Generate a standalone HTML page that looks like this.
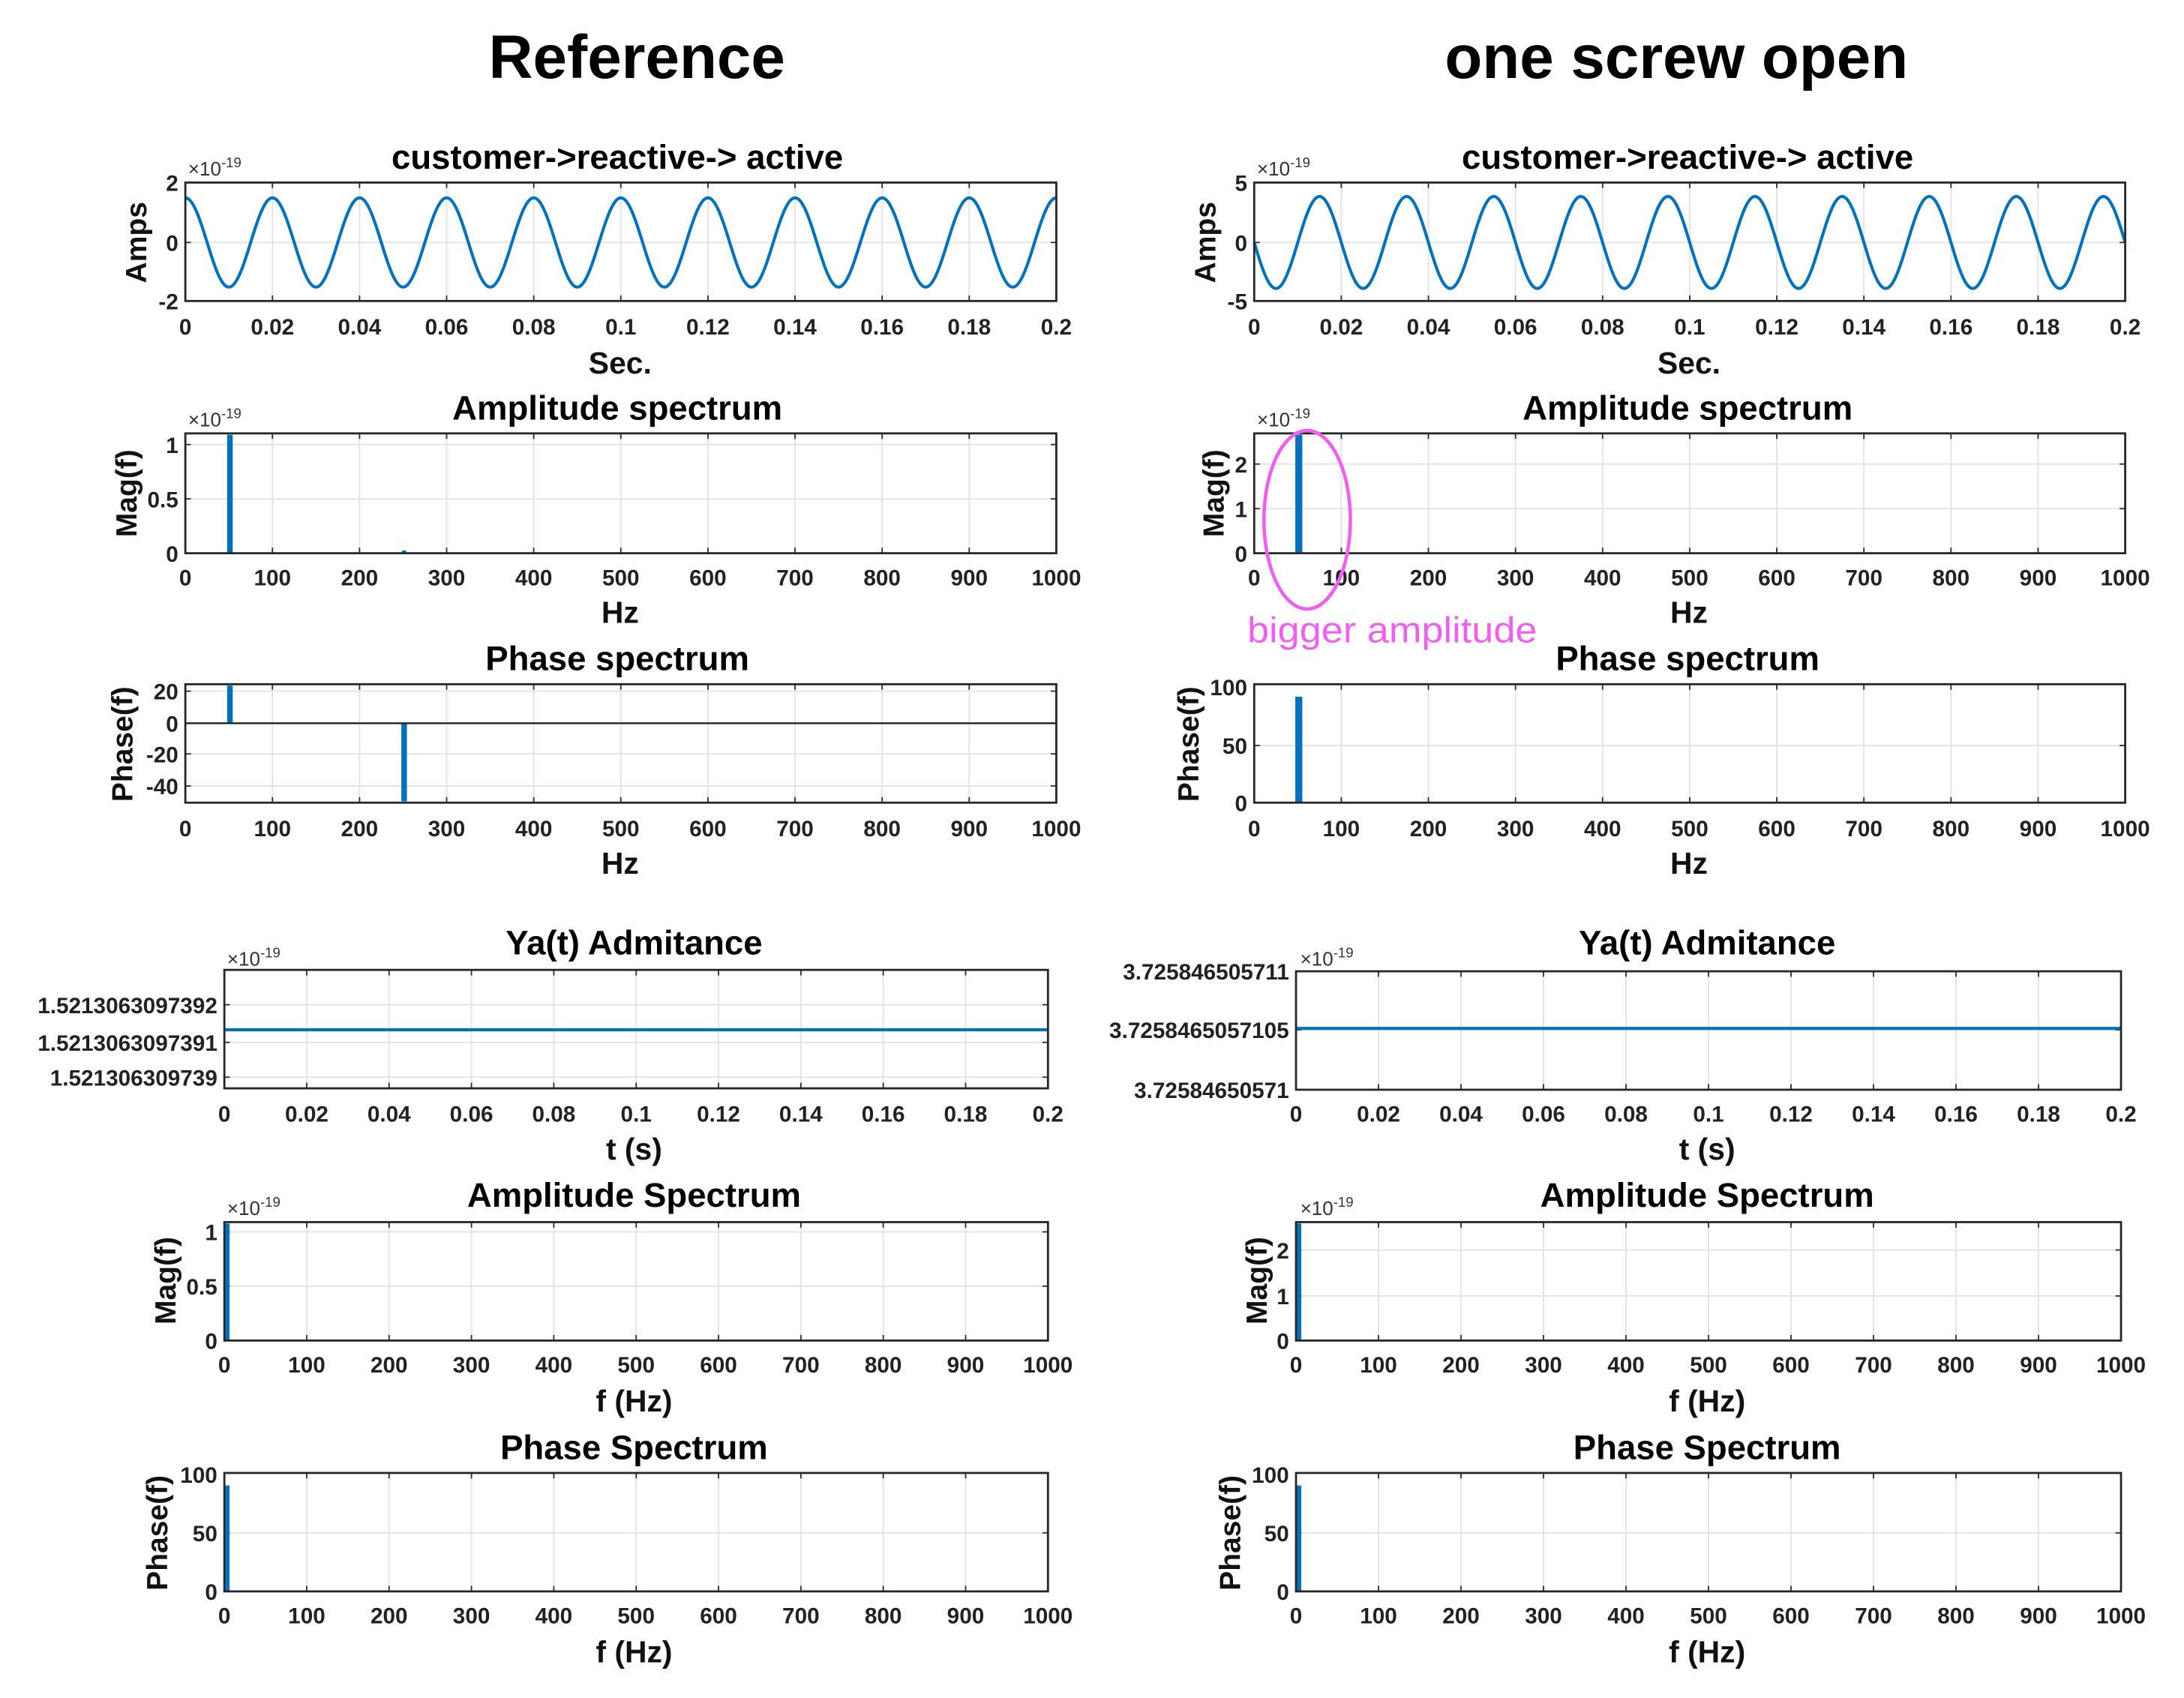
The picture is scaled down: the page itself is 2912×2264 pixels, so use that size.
<!DOCTYPE html>
<html><head><meta charset="utf-8"><style>
html,body{margin:0;padding:0;background:#fff;width:2912px;height:2264px;overflow:hidden}
svg text{font-family:"Liberation Sans",Arial,sans-serif;fill:#222}
.t{font-size:16px;font-weight:bold;text-anchor:middle}
.y{font-size:16px;font-weight:bold;text-anchor:end}
.ti{font-size:24.5px;font-weight:bold;text-anchor:middle;fill:#000}
.xl{font-size:22px;font-weight:bold;text-anchor:middle;fill:#111}
.yl{font-size:21px;font-weight:bold;text-anchor:middle;fill:#111}
.ex{font-size:14px;fill:#333}
.ex2{font-size:10px;fill:#333}
.h{font-size:44px;font-weight:bold;text-anchor:middle;fill:#000}
</style></head><body>
<svg id="s" width="2912" height="2264" viewBox="0 0 1567.2 1218.5" preserveAspectRatio="none" xmlns="http://www.w3.org/2000/svg">
<rect width="1568" height="1219" fill="#fff"/>
<g id="g"></g>
<text class="h" x="457" y="56">Reference</text>
<text class="h" x="1203" y="56">one screw open</text>

<text class="ti" x="443" y="121">customer-&gt;reactive-&gt; active</text>
<text class="ti" x="1211" y="121">customer-&gt;reactive-&gt; active</text>
<text class="ti" x="443" y="301">Amplitude spectrum</text>
<text class="ti" x="1211" y="301">Amplitude spectrum</text>
<text class="ti" x="443" y="481">Phase spectrum</text>
<text class="ti" x="1211" y="481">Phase spectrum</text>
<text class="ti" x="455" y="685">Ya(t) Admitance</text>
<text class="ti" x="1225" y="685">Ya(t) Admitance</text>
<text class="ti" x="455" y="866">Amplitude Spectrum</text>
<text class="ti" x="1225" y="866">Amplitude Spectrum</text>
<text class="ti" x="455" y="1047">Phase Spectrum</text>
<text class="ti" x="1225" y="1047">Phase Spectrum</text>

<text class="ex" x="135" y="126">×10<tspan class="ex2" dy="-6">-19</tspan></text>
<text class="ex" x="902" y="126">×10<tspan class="ex2" dy="-6">-19</tspan></text>
<text class="ex" x="135" y="306">×10<tspan class="ex2" dy="-6">-19</tspan></text>
<text class="ex" x="902" y="306">×10<tspan class="ex2" dy="-6">-19</tspan></text>
<text class="ex" x="163" y="693">×10<tspan class="ex2" dy="-6">-19</tspan></text>
<text class="ex" x="933" y="693">×10<tspan class="ex2" dy="-6">-19</tspan></text>
<text class="ex" x="163" y="872">×10<tspan class="ex2" dy="-6">-19</tspan></text>
<text class="ex" x="933" y="872">×10<tspan class="ex2" dy="-6">-19</tspan></text>

<text class="yl" transform="translate(105,174) rotate(-90)">Amps</text>
<text class="yl" transform="translate(872,174) rotate(-90)">Amps</text>
<text class="yl" transform="translate(98,354) rotate(-90)">Mag(f)</text>
<text class="yl" transform="translate(878,354) rotate(-90)">Mag(f)</text>
<text class="yl" transform="translate(95,534) rotate(-90)">Phase(f)</text>
<text class="yl" transform="translate(860,534) rotate(-90)">Phase(f)</text>
<text class="yl" transform="translate(126,919) rotate(-90)">Mag(f)</text>
<text class="yl" transform="translate(909,919) rotate(-90)">Mag(f)</text>
<text class="yl" transform="translate(120,1100) rotate(-90)">Phase(f)</text>
<text class="yl" transform="translate(890,1100) rotate(-90)">Phase(f)</text>

<text class="y" x="128" y="137">2</text><text class="y" x="128" y="180">0</text><text class="y" x="128" y="222">-2</text>
<text class="y" x="895" y="137">5</text><text class="y" x="895" y="180">0</text><text class="y" x="895" y="222">-5</text>
<text class="y" x="128" y="325">1</text><text class="y" x="128" y="364">0.5</text><text class="y" x="128" y="403">0</text>
<text class="y" x="895" y="339">2</text><text class="y" x="895" y="371">1</text><text class="y" x="895" y="403">0</text>
<text class="y" x="128" y="502">20</text><text class="y" x="128" y="525">0</text><text class="y" x="128" y="547">-20</text><text class="y" x="128" y="570">-40</text>
<text class="y" x="895" y="499">100</text><text class="y" x="895" y="541">50</text><text class="y" x="895" y="582">0</text>
<text class="y" x="156" y="727">1.5213063097392</text><text class="y" x="156" y="754">1.5213063097391</text><text class="y" x="156" y="779">1.521306309739</text>
<text class="y" x="925" y="703">3.725846505711</text><text class="y" x="925" y="745">3.7258465057105</text><text class="y" x="925" y="788">3.72584650571</text>
<text class="y" x="156" y="890">1</text><text class="y" x="156" y="929">0.5</text><text class="y" x="156" y="968">0</text>
<text class="y" x="925" y="903">2</text><text class="y" x="925" y="936">1</text><text class="y" x="925" y="968">0</text>
<text class="y" x="156" y="1064">100</text><text class="y" x="156" y="1106">50</text><text class="y" x="156" y="1148">0</text>
<text class="y" x="925" y="1064">100</text><text class="y" x="925" y="1106">50</text><text class="y" x="925" y="1148">0</text>

<g>
<text class="t" x="133" y="240">0</text><text class="t" x="195.5" y="240">0.02</text><text class="t" x="258" y="240">0.04</text><text class="t" x="320.5" y="240">0.06</text><text class="t" x="383" y="240">0.08</text><text class="t" x="445.5" y="240">0.1</text><text class="t" x="508" y="240">0.12</text><text class="t" x="570.5" y="240">0.14</text><text class="t" x="633" y="240">0.16</text><text class="t" x="695.5" y="240">0.18</text><text class="t" x="758" y="240">0.2</text>
<text class="t" x="900" y="240">0</text><text class="t" x="962.5" y="240">0.02</text><text class="t" x="1025" y="240">0.04</text><text class="t" x="1087.5" y="240">0.06</text><text class="t" x="1150" y="240">0.08</text><text class="t" x="1212.5" y="240">0.1</text><text class="t" x="1275" y="240">0.12</text><text class="t" x="1337.5" y="240">0.14</text><text class="t" x="1400" y="240">0.16</text><text class="t" x="1462.5" y="240">0.18</text><text class="t" x="1525" y="240">0.2</text>
<text class="t" x="133" y="420">0</text><text class="t" x="195.5" y="420">100</text><text class="t" x="258" y="420">200</text><text class="t" x="320.5" y="420">300</text><text class="t" x="383" y="420">400</text><text class="t" x="445.5" y="420">500</text><text class="t" x="508" y="420">600</text><text class="t" x="570.5" y="420">700</text><text class="t" x="633" y="420">800</text><text class="t" x="695.5" y="420">900</text><text class="t" x="758" y="420">1000</text>
<text class="t" x="900" y="420">0</text><text class="t" x="962.5" y="420">100</text><text class="t" x="1025" y="420">200</text><text class="t" x="1087.5" y="420">300</text><text class="t" x="1150" y="420">400</text><text class="t" x="1212.5" y="420">500</text><text class="t" x="1275" y="420">600</text><text class="t" x="1337.5" y="420">700</text><text class="t" x="1400" y="420">800</text><text class="t" x="1462.5" y="420">900</text><text class="t" x="1525" y="420">1000</text>
<text class="t" x="133" y="600">0</text><text class="t" x="195.5" y="600">100</text><text class="t" x="258" y="600">200</text><text class="t" x="320.5" y="600">300</text><text class="t" x="383" y="600">400</text><text class="t" x="445.5" y="600">500</text><text class="t" x="508" y="600">600</text><text class="t" x="570.5" y="600">700</text><text class="t" x="633" y="600">800</text><text class="t" x="695.5" y="600">900</text><text class="t" x="758" y="600">1000</text>
<text class="t" x="900" y="600">0</text><text class="t" x="962.5" y="600">100</text><text class="t" x="1025" y="600">200</text><text class="t" x="1087.5" y="600">300</text><text class="t" x="1150" y="600">400</text><text class="t" x="1212.5" y="600">500</text><text class="t" x="1275" y="600">600</text><text class="t" x="1337.5" y="600">700</text><text class="t" x="1400" y="600">800</text><text class="t" x="1462.5" y="600">900</text><text class="t" x="1525" y="600">1000</text>

<text class="t" x="161" y="805">0</text><text class="t" x="220.1" y="805">0.02</text><text class="t" x="279.2" y="805">0.04</text><text class="t" x="338.3" y="805">0.06</text><text class="t" x="397.4" y="805">0.08</text><text class="t" x="456.5" y="805">0.1</text><text class="t" x="515.6" y="805">0.12</text><text class="t" x="574.7" y="805">0.14</text><text class="t" x="633.8" y="805">0.16</text><text class="t" x="692.9" y="805">0.18</text><text class="t" x="752" y="805">0.2</text>
<text class="t" x="930" y="805">0</text><text class="t" x="989.2" y="805">0.02</text><text class="t" x="1048.4" y="805">0.04</text><text class="t" x="1107.6" y="805">0.06</text><text class="t" x="1166.8" y="805">0.08</text><text class="t" x="1226" y="805">0.1</text><text class="t" x="1285.2" y="805">0.12</text><text class="t" x="1344.4" y="805">0.14</text><text class="t" x="1403.6" y="805">0.16</text><text class="t" x="1462.8" y="805">0.18</text><text class="t" x="1522" y="805">0.2</text>
<text class="t" x="161" y="985">0</text><text class="t" x="220.1" y="985">100</text><text class="t" x="279.2" y="985">200</text><text class="t" x="338.3" y="985">300</text><text class="t" x="397.4" y="985">400</text><text class="t" x="456.5" y="985">500</text><text class="t" x="515.6" y="985">600</text><text class="t" x="574.7" y="985">700</text><text class="t" x="633.8" y="985">800</text><text class="t" x="692.9" y="985">900</text><text class="t" x="752" y="985">1000</text>
<text class="t" x="930" y="985">0</text><text class="t" x="989.2" y="985">100</text><text class="t" x="1048.4" y="985">200</text><text class="t" x="1107.6" y="985">300</text><text class="t" x="1166.8" y="985">400</text><text class="t" x="1226" y="985">500</text><text class="t" x="1285.2" y="985">600</text><text class="t" x="1344.4" y="985">700</text><text class="t" x="1403.6" y="985">800</text><text class="t" x="1462.8" y="985">900</text><text class="t" x="1522" y="985">1000</text>
<text class="t" x="161" y="1165">0</text><text class="t" x="220.1" y="1165">100</text><text class="t" x="279.2" y="1165">200</text><text class="t" x="338.3" y="1165">300</text><text class="t" x="397.4" y="1165">400</text><text class="t" x="456.5" y="1165">500</text><text class="t" x="515.6" y="1165">600</text><text class="t" x="574.7" y="1165">700</text><text class="t" x="633.8" y="1165">800</text><text class="t" x="692.9" y="1165">900</text><text class="t" x="752" y="1165">1000</text>
<text class="t" x="930" y="1165">0</text><text class="t" x="989.2" y="1165">100</text><text class="t" x="1048.4" y="1165">200</text><text class="t" x="1107.6" y="1165">300</text><text class="t" x="1166.8" y="1165">400</text><text class="t" x="1226" y="1165">500</text><text class="t" x="1285.2" y="1165">600</text><text class="t" x="1344.4" y="1165">700</text><text class="t" x="1403.6" y="1165">800</text><text class="t" x="1462.8" y="1165">900</text><text class="t" x="1522" y="1165">1000</text>
</g>

<text class="xl" x="445" y="268">Sec.</text><text class="xl" x="1212" y="268">Sec.</text>
<text class="xl" x="445" y="447">Hz</text><text class="xl" x="1212" y="447">Hz</text>
<text class="xl" x="445" y="627">Hz</text><text class="xl" x="1212" y="627">Hz</text>
<text class="xl" x="455" y="832">t (s)</text><text class="xl" x="1225" y="832">t (s)</text>
<text class="xl" x="455" y="1013">f (Hz)</text><text class="xl" x="1225" y="1013">f (Hz)</text>
<text class="xl" x="455" y="1193">f (Hz)</text><text class="xl" x="1225" y="1193">f (Hz)</text>

<ellipse cx="938" cy="373" rx="31" ry="64" fill="none" stroke="#f060f0" stroke-width="2.5"/>
<text x="895" y="461" textLength="208" lengthAdjust="spacingAndGlyphs" style="font-size:26px;fill:#f060f0;font-family:'Liberation Sans',sans-serif">bigger amplitude</text>
</svg>
<script>
var g=document.getElementById('g'),h='';
function ax(x0,x1,y0,y1,ys){
  var dx=(x1-x0)/10;
  for(var i=1;i<10;i++){var x=x0+i*dx;h+='<line x1="'+x+'" x2="'+x+'" y1="'+y0+'" y2="'+y1+'" stroke="#e3e3e3" stroke-width="1"/>';
   h+='<line x1="'+x+'" x2="'+x+'" y1="'+y0+'" y2="'+(y0+4)+'" stroke="#333"/><line x1="'+x+'" x2="'+x+'" y1="'+y1+'" y2="'+(y1-4)+'" stroke="#333"/>';}
  ys.forEach(function(y){h+='<line x1="'+x0+'" x2="'+x1+'" y1="'+y+'" y2="'+y+'" stroke="#e3e3e3"/>';
   h+='<line x1="'+x0+'" x2="'+(x0+4)+'" y1="'+y+'" y2="'+y+'" stroke="#333"/><line x1="'+x1+'" x2="'+(x1-4)+'" y1="'+y+'" y2="'+y+'" stroke="#333"/>';});
}
function box(x0,x1,y0,y1){h+='<rect x="'+x0+'" y="'+y0+'" width="'+(x1-x0)+'" height="'+(y1-y0)+'" fill="none" stroke="#262626" stroke-width="1.5"/>';}
function sine(x0,x1,yc,a,ph){var d='';for(var i=0;i<=1000;i++){var t=i/1000;var x=x0+t*(x1-x0);var y=yc-a*Math.cos(2*Math.PI*10*t+ph);d+=(i?'L':'M')+x.toFixed(2)+' '+y.toFixed(2);}
 h+='<path d="'+d+'" fill="none" stroke="#0072bd" stroke-width="2.2"/>';}
function bar(x,y0,y1,w){h+='<rect x="'+(x-w/2)+'" y="'+Math.min(y0,y1)+'" width="'+w+'" height="'+Math.abs(y1-y0)+'" fill="#0072bd"/>';}
ax(133,758,131,216,[174]);sine(133,758,174,32,0);box(133,758,131,216);
ax(900,1525,131,216,[174]);sine(900,1525,174,33,Math.PI/2);box(900,1525,131,216);
ax(133,758,311,397,[319,358]);bar(165,397,312,4);bar(290,397,395,3);box(133,758,311,397);
ax(900,1525,311,397,[333,365]);bar(932,397,312,5);box(900,1525,311,397);
ax(133,758,491,576,[496,519,541,564]);bar(165,519,492,4);bar(290,519,575,4);h+='<line x1="133" x2="758" y1="519" y2="519" stroke="#222" stroke-width="1.3"/>';box(133,758,491,576);
ax(900,1525,491,576,[535]);bar(932,576,500,5);box(900,1525,491,576);
ax(161,752,696,781,[721,748,773]);h+='<line x1="161" x2="752" y1="739" y2="739" stroke="#0072bd" stroke-width="2.2"/>';box(161,752,696,781);
ax(930,1522,697,782,[739]);h+='<line x1="930" x2="1522" y1="738" y2="738" stroke="#0072bd" stroke-width="2.2"/>';box(930,1522,697,782);
ax(161,752,877,962,[884,923]);bar(163,962,878,3.5);box(161,752,877,962);
ax(930,1522,877,962,[897,930]);bar(932,962,878,3.5);box(930,1522,877,962);
ax(161,752,1057,1142,[1100]);bar(163,1142,1066,3.5);box(161,752,1057,1142);
ax(930,1522,1057,1142,[1100]);bar(932,1142,1066,3.5);box(930,1522,1057,1142);
g.innerHTML=h;
</script>
</body></html>
